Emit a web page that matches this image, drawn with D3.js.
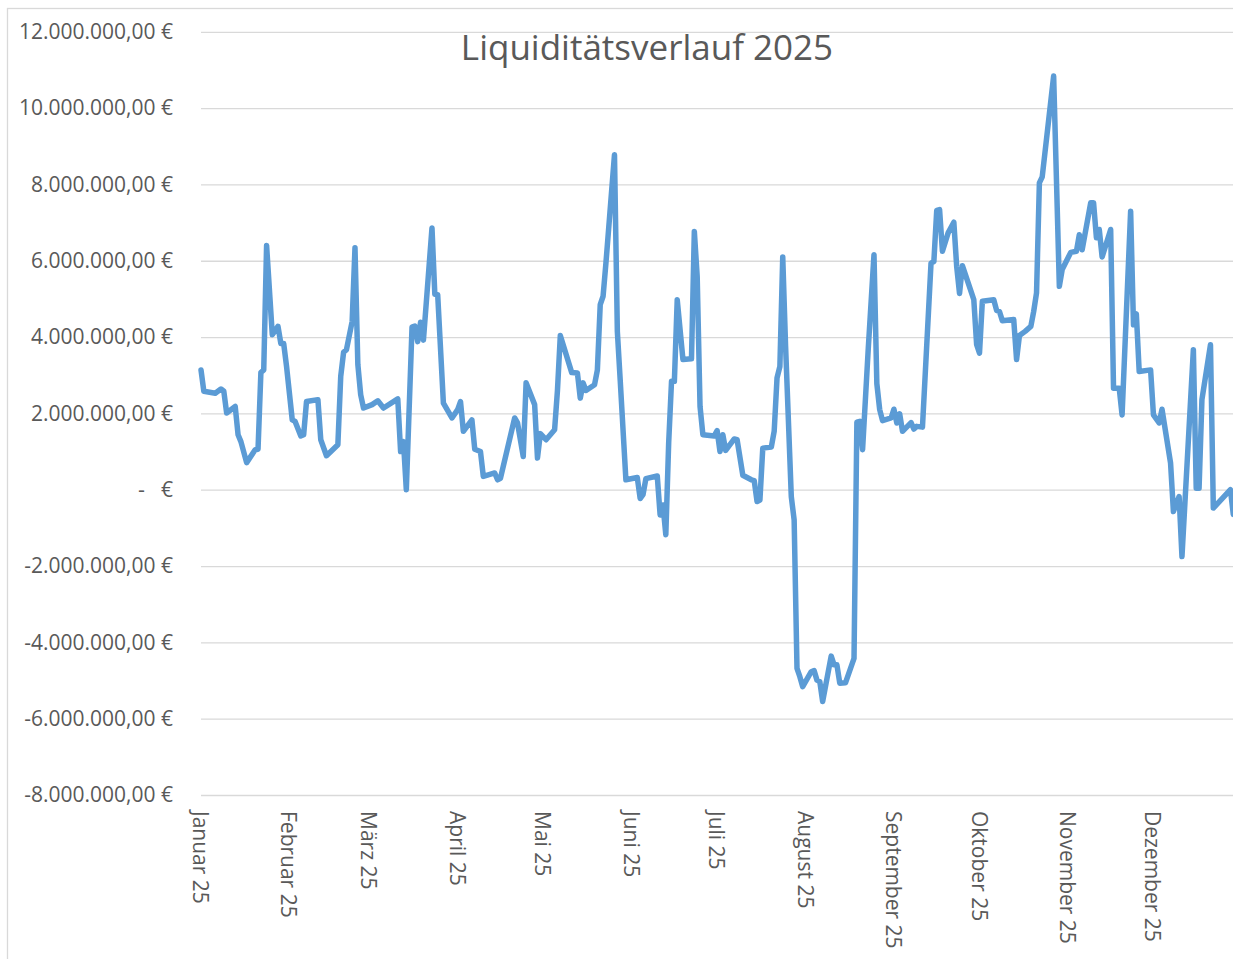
<!DOCTYPE html>
<html>
<head>
<meta charset="utf-8">
<script src="https://cdn.jsdelivr.net/npm/d3@7"></script>
<style>
  body { margin: 0; background: #fff; }
  svg { display: block; font-family: "Open Sans", sans-serif; }
</style>
</head>
<body>
<div id="chart"></div>
<script>
// Tagesdaten (Kontostand in Mio. €)
var dates = [
  "2025-01-01","2025-01-02","2025-01-06","2025-01-08","2025-01-09","2025-01-10","2025-01-13","2025-01-14",
  "2025-01-15","2025-01-17","2025-01-20","2025-01-21","2025-01-22","2025-01-23","2025-01-24","2025-01-26",
  "2025-01-28","2025-01-29","2025-01-30","2025-01-31","2025-02-02","2025-02-03","2025-02-05","2025-02-06",
  "2025-02-07","2025-02-11","2025-02-12","2025-02-14","2025-02-18","2025-02-19","2025-02-20","2025-02-21",
  "2025-02-23","2025-02-24","2025-02-25","2025-02-26","2025-02-27","2025-03-02","2025-03-04","2025-03-06",
  "2025-03-11","2025-03-12","2025-03-13","2025-03-14","2025-03-16","2025-03-17","2025-03-18","2025-03-19",
  "2025-03-20","2025-03-23","2025-03-24","2025-03-25","2025-03-27","2025-03-30","2025-04-01","2025-04-02",
  "2025-04-03","2025-04-06","2025-04-07","2025-04-09","2025-04-10","2025-04-14","2025-04-15","2025-04-16",
  "2025-04-21","2025-04-22","2025-04-24","2025-04-25","2025-04-28","2025-04-29","2025-04-30","2025-05-02",
  "2025-05-05","2025-05-06","2025-05-07","2025-05-11","2025-05-13","2025-05-14","2025-05-15","2025-05-16",
  "2025-05-19","2025-05-20","2025-05-21","2025-05-22","2025-05-23","2025-05-26","2025-05-27","2025-05-28",
  "2025-05-30","2025-06-03","2025-06-04","2025-06-05","2025-06-06","2025-06-10","2025-06-11","2025-06-12",
  "2025-06-13","2025-06-14","2025-06-15","2025-06-16","2025-06-17","2025-06-19","2025-06-22","2025-06-23",
  "2025-06-24","2025-06-25","2025-06-26","2025-06-30","2025-07-01","2025-07-02","2025-07-03","2025-07-04",
  "2025-07-07","2025-07-08","2025-07-10","2025-07-13","2025-07-14","2025-07-15","2025-07-16","2025-07-17",
  "2025-07-20","2025-07-21","2025-07-22","2025-07-23","2025-07-24","2025-07-25","2025-07-27","2025-07-28",
  "2025-07-29","2025-07-30","2025-07-31","2025-08-03","2025-08-04","2025-08-05","2025-08-06","2025-08-07",
  "2025-08-10","2025-08-11","2025-08-12","2025-08-13","2025-08-15","2025-08-18","2025-08-19","2025-08-20",
  "2025-08-21","2025-08-23","2025-08-25","2025-08-26","2025-08-27","2025-08-28","2025-08-31","2025-09-01",
  "2025-09-02","2025-09-03","2025-09-04","2025-09-07","2025-09-08","2025-09-09","2025-09-11","2025-09-14",
  "2025-09-15","2025-09-16","2025-09-17","2025-09-18","2025-09-20","2025-09-22","2025-09-23","2025-09-24",
  "2025-09-25","2025-09-29","2025-09-30","2025-10-01","2025-10-02","2025-10-06","2025-10-07","2025-10-08",
  "2025-10-09","2025-10-13","2025-10-14","2025-10-15","2025-10-17","2025-10-19","2025-10-20","2025-10-21",
  "2025-10-22","2025-10-23","2025-10-27","2025-10-29","2025-10-30","2025-11-02","2025-11-04","2025-11-05",
  "2025-11-06","2025-11-09","2025-11-10","2025-11-11","2025-11-12","2025-11-13","2025-11-16","2025-11-17",
  "2025-11-19","2025-11-20","2025-11-23","2025-11-24","2025-11-25","2025-11-26","2025-11-30","2025-12-01",
  "2025-12-03","2025-12-04","2025-12-07","2025-12-08","2025-12-10","2025-12-11","2025-12-15","2025-12-16",
  "2025-12-17","2025-12-18","2025-12-21","2025-12-22","2025-12-28","2025-12-29"
];
var valuesMio = [
  3.14, 2.58, 2.53, 2.64, 2.58, 2.01, 2.18, 1.44,
  1.26, 0.71, 1.05, 1.06, 3.07, 3.14, 6.40, 4.06,
  4.28, 3.83, 3.83, 3.23, 1.83, 1.79, 1.41, 1.44,
  2.31, 2.36, 1.31, 0.89, 1.18, 2.97, 3.60, 3.67,
  4.41, 6.34, 3.28, 2.49, 2.14, 2.23, 2.33, 2.14,
  2.38, 1.00, 1.26, 0.00, 4.26, 4.29, 3.88, 4.39,
  3.92, 6.86, 5.12, 5.11, 2.27, 1.88, 2.10, 2.31,
  1.53, 1.83, 1.06, 1.00, 0.35, 0.44, 0.26, 0.30,
  1.88, 1.75, 0.87, 2.80, 2.23, 0.83, 1.47, 1.31,
  1.57, 2.60, 4.04, 3.07, 3.06, 2.40, 2.80, 2.60,
  2.75, 3.14, 4.85, 5.07, 5.94, 8.78, 4.15, 2.88,
  0.26, 0.32, -0.23, -0.13, 0.29, 0.36, -0.66, -0.40,
  -1.18, 1.22, 2.84, 2.84, 4.98, 3.41, 3.43, 6.77,
  5.59, 2.18, 1.44, 1.41, 1.55, 1.00, 1.44, 1.03,
  1.33, 1.31, 0.38, 0.26, 0.24, -0.31, -0.27, 1.09,
  1.12, 1.53, 2.93, 3.23, 6.10, 3.76, -0.18, -0.79,
  -4.68, -4.90, -5.16, -4.77, -4.74, -4.99, -5.03, -5.55,
  -4.36, -4.59, -4.59, -5.07, -5.06, -4.42, 1.77, 1.79,
  1.05, 3.71, 6.16, 2.78, 2.10, 1.81, 1.88, 2.11,
  1.75, 1.99, 1.53, 1.76, 1.59, 1.66, 1.64, 5.94,
  5.98, 7.32, 7.34, 6.25, 6.73, 7.01, 5.85, 5.14,
  5.87, 4.98, 3.80, 3.58, 4.94, 4.98, 4.70, 4.67,
  4.43, 4.46, 3.41, 4.04, 4.15, 4.28, 4.67, 5.16,
  8.04, 8.20, 10.84, 5.33, 5.77, 6.22, 6.25, 6.68,
  6.29, 7.52, 7.52, 6.60, 6.82, 6.10, 6.82, 2.66,
  2.66, 1.96, 7.30, 4.32, 4.61, 3.10, 3.14, 1.96,
  1.75, 2.11, 0.70, -0.57, -0.18, -1.75, 3.67, 0.04,
  0.04, 2.36, 3.80, -0.48, 0.00, -0.65
];
var yTicks = [12, 10, 8, 6, 4, 2, 0, -2, -4, -6, -8]; // Mio. €
var monthLabels = ["Januar 25", "Februar 25", "März 25", "April 25", "Mai 25", "Juni 25",
  "Juli 25", "August 25", "September 25", "Oktober 25", "November 25", "Dezember 25"];
var title = "Liquiditätsverlauf 2025";

var w = 1233, h = 959;
var textColor = "#595959", gridColor = "#d9d9d9", lineColor = "#5b9bd5";

var parse = d3.timeParse("%Y-%m-%d");
var data = dates.map(function (d, i) {
  return { date: parse(d), value: valuesMio[i] * 1e6 };
});

var de = d3.formatLocale({
  decimal: ",", thousands: ".", grouping: [3], currency: ["", " €"], minus: "-"
});
var fmt = de.format(",.2f");

var x = d3.scaleTime()
  .domain([new Date(2025, 0, 1), new Date(2025, 11, 31)])
  .range([201, 1239]);
var y = d3.scaleLinear()
  .domain([-8e6, 12e6])
  .range([795, 31.8]);

var svg = d3.select("#chart").append("svg")
  .attr("width", w)
  .attr("height", h);

// Diagrammrahmen
svg.append("rect")
  .attr("x", 7.5).attr("y", 8.5)
  .attr("width", 1300).attr("height", 1000)
  .attr("fill", "none")
  .attr("stroke", gridColor)
  .attr("stroke-width", 1.3);

// y-Achse mit Gitterlinien
var yAxis = svg.append("g")
  .attr("transform", "translate(201,0)")
  .call(d3.axisLeft(y)
    .tickValues(yTicks.map(function (t) { return t * 1e6; }))
    .tickSize(-(w - 201))
    .tickPadding(28)
    .tickFormat(function (v) { return v === 0 ? "€" : fmt(v) + " €"; }));
yAxis.select(".domain").remove();
yAxis.selectAll(".tick line")
  .attr("stroke", gridColor)
  .attr("stroke-width", 1.3);
yAxis.selectAll(".tick text")
  .attr("fill", textColor)
  .style("font-size", "21px")
  .style("font-family", "'Open Sans', sans-serif");
// Nullwert im Buchhaltungsformat: "-   €"
yAxis.selectAll(".tick")
  .filter(function (d) { return d === 0; })
  .append("text")
  .attr("x", -56)
  .attr("dy", "0.32em")
  .attr("text-anchor", "end")
  .attr("fill", textColor)
  .style("font-size", "21px")
  .text("-");

// x-Achse: Monatsbeschriftungen, senkrecht
var months = d3.timeMonth.range(new Date(2025, 0, 1), new Date(2026, 0, 1));
svg.append("g")
  .selectAll("text")
  .data(months)
  .enter()
  .append("text")
  .attr("transform", function (d) { return "translate(" + x(d) + ",811) rotate(90)"; })
  .attr("dominant-baseline", "central")
  .attr("fill", textColor)
  .style("font-size", "21px")
  .text(function (d, i) { return monthLabels[i]; });

// Linie
var line = d3.line()
  .x(function (d) { return x(d.date); })
  .y(function (d) { return y(d.value); });
svg.append("path")
  .datum(data)
  .attr("d", line)
  .attr("fill", "none")
  .attr("stroke", lineColor)
  .attr("stroke-width", 5.5)
  .attr("stroke-linejoin", "round")
  .attr("stroke-linecap", "round");

// Titel
svg.append("text")
  .attr("x", 647)
  .attr("y", 60)
  .attr("text-anchor", "middle")
  .attr("fill", textColor)
  .style("font-size", "35px")
  .text(title);
</script>
</body>
</html>
